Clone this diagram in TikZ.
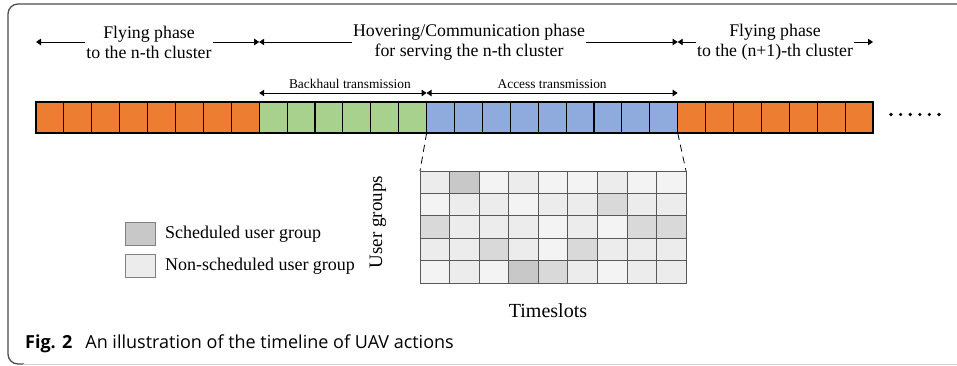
\documentclass[tikz,border=0pt]{standalone}
\usepackage{fontspec}
\setmainfont{Liberation Serif}
\newfontfamily\capfont{Open Sans}
\usetikzlibrary{arrows.meta,calc}

\definecolor{flyorange}{HTML}{ED7D31}
\definecolor{bhgreen}{HTML}{A9D18E}
\definecolor{acblue}{HTML}{8FAADC}
\definecolor{schedgray}{HTML}{C8C8C8}
\definecolor{midgray}{HTML}{D9D9D9}
\definecolor{lightA}{HTML}{ECECEC}
\definecolor{lightB}{HTML}{F3F3F3}

\begin{document}
\begin{tikzpicture}[x=1pt,y=-1pt,
  slot/.style={draw=black,line width=1.1pt,minimum width=27.9pt,minimum height=31pt,inner sep=0pt,outer sep=0pt},
  ugcell/.style={draw=black!65,line width=0.8pt,minimum width=29.56pt,minimum height=22.4pt,inner sep=0pt,outer sep=0pt},
  legbox/.style={draw=black!50,line width=0.8pt,minimum width=30pt,minimum height=23pt,inner sep=0pt},
  phase/.style={align=center,inner sep=1pt,font=\fontsize{17.8}{20}\selectfont},
  sublabel/.style={inner sep=1pt,font=\fontsize{13.4}{15}\selectfont},
  bigtext/.style={font=\fontsize{18}{21}\selectfont},
  tip/.tip={Triangle[length=5pt,width=6.5pt]},
  oneway/.style={line width=0.9pt,-tip},
  twoway/.style={line width=0.9pt,tip-tip},
  zoomline/.style={line width=0.8pt,dash pattern=on 7pt off 5pt},
]
\useasboundingbox (0,0) rectangle (957,366);

% outer frame
\draw[black!70,line width=1.3pt,rounded corners=10pt] (957,4) -- (8,4) -- (8,364) -- (24,364);
\draw[black!18,line width=1pt] (23,364) -- (957,364);

% timeline slots
\foreach \i in {1,...,30}{
  \ifnum\i<9 \def\slotcol{flyorange}\else
  \ifnum\i<15 \def\slotcol{bhgreen}\else
  \ifnum\i<24 \def\slotcol{acblue}\else
  \def\slotcol{flyorange}\fi\fi\fi
  \node[slot,fill=\slotcol] (c\i) at ({36+27.9*(\i-0.5)},117.5) {};
}
\foreach \k in {0,...,5}
  \fill ({891+9.6*\k},114.5) circle (1.8pt);

% phase labels and spans
\node[phase] (fly1) at (149,42) {Flying phase\\to the n-th cluster};
\node[phase] (hov) at (469,42) {Hovering/Communication phase\\for serving the n-th cluster};
\node[phase] (fly2) at (775,42) {Flying phase\\to the (n+1)-th cluster};
\draw[oneway] (fly1.west) -- (c1.west |- fly1.west);
\draw[oneway] (fly1.east) -- (c8.east |- fly1.east);
\draw[oneway] (hov.west) -- (c8.east |- hov.west);
\draw[oneway] (hov.east) -- (c23.east |- hov.east);
\draw[oneway] (fly2.west) -- (c23.east |- fly2.west);
\draw[oneway] (fly2.east) -- (c30.east |- fly2.east);

\coordinate (lvl) at (0,93);
\draw[twoway] (c8.east |- lvl) -- (c14.east |- lvl)
  node[sublabel,midway,above=3pt,xshift=7pt] (bhl) {Backhaul transmission};
\draw[twoway] (c14.east |- lvl) -- (c23.east |- lvl)
  node[sublabel,midway,above=3pt] (acl) {Access transmission};

% scheduling grid
\foreach \row [count=\r] in {
  {lightA,schedgray,lightB,lightA,lightB,lightB,lightA,lightB,lightB},
  {lightB,lightA,lightA,lightB,lightA,lightA,midgray,lightA,lightA},
  {midgray,lightA,lightA,lightA,lightB,lightA,lightB,midgray,midgray},
  {lightA,lightA,midgray,lightA,lightB,midgray,lightA,lightA,lightA},
  {lightB,lightA,lightB,schedgray,midgray,lightA,lightB,lightA,lightA}}{
  \foreach \col [count=\c] in \row
    \node[ugcell,fill=\col] (g-\r-\c) at ({420+29.56*(\c-0.5)},{171+22.4*(\r-0.5)}) {};
}
\draw[zoomline] (c14.south east) -- (g-1-1.north west);
\draw[zoomline] (c23.south east) -- (g-1-9.north east);

\node[font=\fontsize{20}{22}\selectfont] (ts) at (548,311) {Timeslots};
\node[font=\fontsize{19}{21}\selectfont,rotate=90] (ug) at (378,222) {User groups};

% legend
\node[legbox,fill=schedgray] (ls) at (140,233.5) {};
\node[legbox,fill=lightA] (ln) at (140,265.5) {};
\node[bigtext,anchor=west] (lst) at (161.5,234) {Scheduled user group};
\node[bigtext,anchor=west] (lnt) at (161.5,266) {Non-scheduled user group};

% caption
\node[anchor=base west,inner sep=0pt] (cap) at (25,348)
  {\capfont\fontsize{18}{21}\selectfont\textbf{Fig. 2}\hspace{13pt}An illustration of the timeline of UAV actions};
\end{tikzpicture}
\end{document}
